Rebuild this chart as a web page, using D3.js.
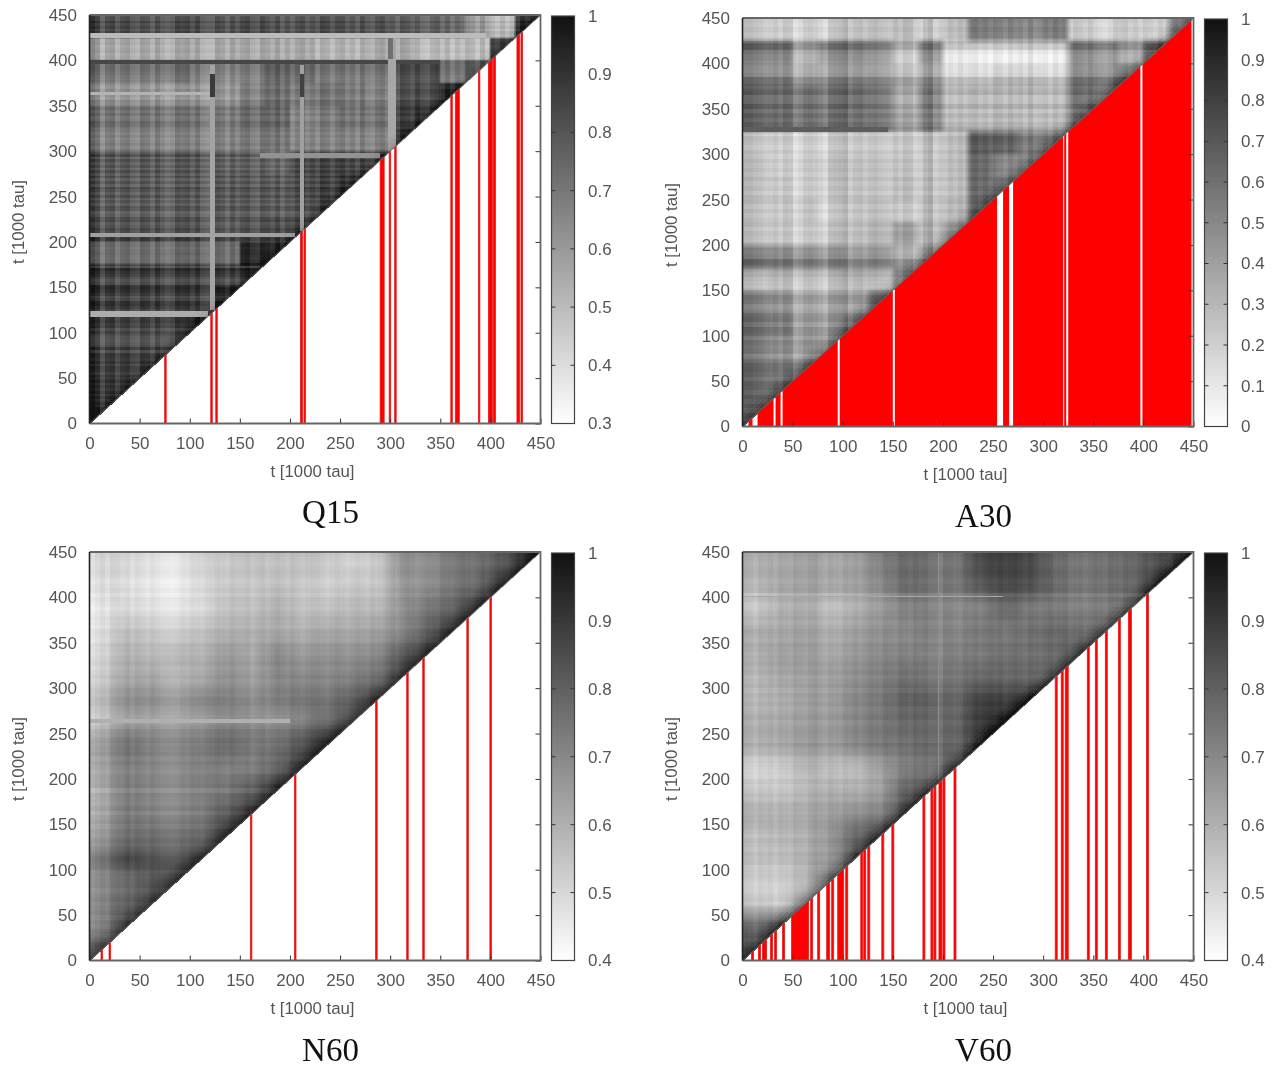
<!DOCTYPE html>
<html><head><meta charset="utf-8">
<script src="https://cdnjs.cloudflare.com/ajax/libs/d3/7.8.5/d3.min.js"></script>
<style>
html,body{margin:0;padding:0;background:#fff}
#wrap{position:relative;width:1275px;height:1065px;overflow:hidden}
canvas{position:absolute;filter:blur(0.45px)}
svg{position:absolute;left:0;top:0}
text{font-family:"Liberation Sans",Arial,sans-serif}
</style></head><body><div id="wrap"></div>
<script>
const axisTicks=[0,50,100,150,200,250,300,350,400,450];
const q15Bar=[0.3,0.4,0.5,0.6,0.7,0.8,0.9,1];
const a30Bar=[0,0.1,0.2,0.3,0.4,0.5,0.6,0.7,0.8,0.9,1];
const n60Bar=[0.4,0.5,0.6,0.7,0.8,0.9,1];
const v60Bar=[0.4,0.5,0.6,0.7,0.8,0.9,1];

// Red event stripes [from,to] in t
const q15Red=[[75,76.5],[121,122.5],[126,127.5],[210.5,212.5],[214,215.5],[290,294],[299,300.5],[304.5,306],[360.5,362],[365,369],[388,389.5],[398,402],[403,405],[426.5,429],[430.5,432]];
const a30Red=[[6,10],[15,31],[33,38],[40,95],[97,150],[152,254],[260,266],[270,320],[321,323],[325,397],[399,448]];
const n60Red=[[11.5,13],[19.5,21],[160.5,162],[204.5,206],[285.5,287],[316.5,318],[332.5,334],[376.5,378],[399.5,401]];
const v60Red=[[9,11],[16,18],[20,24],[28,30],[32,34],[40,42],[49,66],[68,70],[75,77],[84,87],[89,91],[95,101],[103,105],[118,120],[121,123],[125,127],[139,141],[149,151],[180,182],[188,190],[191,193],[196,199],[200,202],[211,213],[312,314],[318,320],[322,325],[344,346],[352,354],[362,364],[375,377],[385,388],[403,405]];

// Block values read per 25-unit cell; bottom row first, left to right up to the diagonal
const q15Grid=[[.90],[.88,.88],[.86,.86,.87],[.83,.83,.83,.87],[.83,.82,.82,.84,.89],[.84,.84,.84,.84,.84,.88],[.84,.84,.84,.84,.85,.84,.88],[.72,.72,.72,.73,.74,.72,.92,.92],[.80,.80,.80,.80,.80,.78,.80,.82,.86],[.78,.78,.78,.78,.78,.78,.78,.78,.82,.86],[.78,.78,.78,.78,.78,.78,.78,.78,.83,.85,.88],[.78,.78,.78,.78,.78,.76,.76,.74,.83,.84,.84,.84],[.66,.66,.66,.66,.66,.66,.68,.70,.66,.66,.66,.66,.88],[.70,.70,.70,.70,.70,.68,.72,.74,.66,.68,.70,.70,.85,.88],[.60,.60,.60,.60,.60,.60,.66,.72,.68,.70,.68,.66,.80,.82,.90],[.70,.70,.70,.72,.68,.66,.68,.76,.74,.70,.70,.70,.82,.82,.70,.75],[.55,.55,.55,.55,.55,.55,.55,.55,.55,.52,.52,.55,.55,.50,.50,.50,.84],[.82,.82,.80,.82,.82,.80,.82,.80,.80,.82,.80,.80,.78,.76,.74,.60,.50,.90]];
const a30Grid=[[.60],[.62,.60],[.60,.55,.55],[.52,.45,.42,.45],[.58,.52,.42,.45,.50],[.50,.45,.38,.40,.40,.55],[.28,.30,.28,.30,.32,.30,.45],[.55,.52,.50,.50,.45,.48,.38,.45],[.24,.22,.22,.25,.26,.30,.40,.30,.40],[.24,.22,.24,.22,.24,.26,.24,.26,.30,.60],[.25,.22,.22,.25,.25,.25,.28,.26,.28,.62,.55],[.25,.20,.22,.26,.25,.25,.26,.25,.28,.62,.50,.50],[.22,.20,.20,.22,.22,.22,.24,.25,.28,.68,.65,.55,.55],[.62,.60,.58,.60,.58,.55,.38,.50,.28,.28,.30,.28,.28,.55],[.62,.60,.58,.60,.60,.55,.35,.52,.28,.30,.30,.30,.28,.58,.55],[.50,.48,.38,.45,.45,.42,.30,.40,.18,.18,.22,.22,.18,.50,.50,.52],[.60,.58,.40,.55,.55,.50,.30,.52,.18,.16,.16,.18,.16,.55,.52,.40,.60],[.22,.20,.20,.22,.25,.26,.28,.22,.28,.55,.52,.50,.55,.22,.20,.22,.20,.50]];
const n60Grid=[[.85],[.72,.86],[.72,.80,.86],[.70,.76,.82,.88],[.74,.85,.82,.80,.88],[.66,.76,.76,.74,.78,.90],[.64,.74,.72,.70,.74,.82,.90],[.62,.72,.70,.68,.72,.74,.80,.90],[.64,.72,.70,.68,.72,.72,.72,.78,.90],[.66,.76,.72,.70,.74,.78,.74,.76,.84,.92],[.58,.66,.66,.64,.68,.72,.70,.70,.74,.80,.88],[.58,.68,.68,.64,.70,.72,.68,.72,.74,.74,.80,.88],[.54,.62,.62,.58,.62,.68,.64,.70,.70,.70,.72,.76,.88],[.52,.60,.58,.58,.60,.66,.62,.70,.66,.68,.68,.70,.82,.90],[.50,.56,.54,.52,.56,.60,.60,.62,.60,.62,.62,.64,.70,.80,.90],[.48,.50,.48,.46,.50,.56,.56,.60,.56,.56,.58,.58,.68,.74,.80,.90],[.50,.48,.46,.44,.50,.54,.54,.56,.54,.52,.54,.54,.66,.68,.74,.78,.90],[.52,.50,.48,.46,.52,.54,.56,.56,.56,.54,.52,.54,.68,.68,.74,.76,.82,.92]];
const v60Grid=[[.82],[.78,.85],[.54,.52,.66],[.52,.52,.58,.74],[.56,.56,.60,.66,.82],[.56,.58,.60,.66,.78,.85],[.60,.60,.62,.65,.68,.72,.85],[.54,.54,.58,.60,.60,.64,.80,.82],[.50,.52,.58,.56,.56,.64,.72,.74,.82],[.60,.62,.66,.65,.70,.74,.76,.78,.78,.90],[.60,.62,.65,.65,.70,.74,.78,.78,.78,.90,.92],[.58,.60,.64,.64,.70,.74,.80,.80,.78,.88,.88,.90],[.58,.62,.64,.64,.68,.72,.76,.74,.74,.78,.78,.78,.80],[.60,.64,.65,.62,.66,.70,.72,.72,.72,.74,.76,.76,.78,.82],[.60,.62,.64,.60,.64,.68,.70,.72,.70,.74,.74,.76,.78,.76,.78],[.54,.60,.62,.56,.60,.66,.72,.72,.70,.72,.78,.74,.74,.72,.74,.78],[.58,.62,.64,.62,.64,.70,.78,.76,.74,.82,.86,.84,.78,.74,.76,.78,.88],[.60,.62,.64,.62,.64,.72,.78,.76,.74,.86,.88,.86,.78,.74,.76,.78,.84,.88]];

// Stripe offsets in hundredths, bottom to top (rows) / left to right (cols)
const q15Rows=[2,-1,2,-2,1,2,-2,1,-1,2,-2,2,-1,1,-2,2,-1,2,-2,1,2,-2,2,-1,1,4,-3,5,-2,-4,-5,-4,-2,2,-2,4,3,5,4,0,0,0,3,6,5,-1,-3,2,5,7,6,-3,-5,-2,2,4,7,-4,6,0,-1,0,1,0,-1,1,0,7,6,0,1,3,-1,-3,2,3,-2,-4,2,3,-3,1,-3,3,-2,2,4,-3,2,-3,3,-2,3,-3,2,-2,3,-3,4,-2,1,-1,2,0,-2,1,-1,2,-1,2,3,-1,-2,2,-1,3,2,3,4,-2,0,2,3,-1,1,-2,-3,-2,0,1,2,2,3,5,0,-1,1,0,-1,1,0,0,0,2,-2,2,-1,3,-2,-3];
const q15Cols=[6,3,-3,1,2,-2,1,2,-1,-2,2,1,-2,2,-1,-3,-2,2,1,2,-1,2,-2,-3,-3,2,1,-2,2,-1,1,2,-1,-2,2,1,-1,2,-2,1,-2,1,2,-1,1,-2,2,1,-2,1,2,-1,1,-2,2,-1,-2,1,2,-1,1,-2,2,1,-1,2,-1,-2,1,2,-1,2,-2,1,-1,2,1,-2,2,-2,1,-1,2,-1,1,-2,2,-1,1,0];
const a30Rows=[3,-2,2,-2,3,-1,2,-3,1,2,-3,2,4,3,-2,-5,3,2,5,-2,4,5,-3,4,3,-2,-4,3,5,-2,-6,-4,-2,3,6,8,8,-4,-6,-4,-2,0,2,-2,3,1,-2,2,-2,3,2,-3,1,-2,3,-2,2,-1,2,-2,2,-2,1,3,-3,8,3,-2,3,-3,5,-3,-4,5,3,10,10,-3,-5,-5,-10,-10,-6,6,8,0,-1,2,-1,1];
const a30Cols=[4,4,2,1,-1,0,2,-1,3,2,-5,-3,1,2,0,-3,-6,1,2,3,5,-2,1,2,-1,1,2,0,-1,-2,1,-2,2,1,-4,-3,3,6,-3,-1,-2,1,-1,2,-1,1,2,-1,1,-2,2,1,-2,2,-1,1,-2,3,-2,-1,1,-2,2,-1,1,-2,2,1,-1,2,-1,-3,-4,-2,2,1,2,-1,1,-2,2,1,-1,2,-1,-2,1,-2,1,2];
const n60Rows=[1,0,-1,1,0,-1,1,0,1,-1,1,0,-1,1,0,-1,1,1,0,-1,2,2,2,1,0,-1,1,0,1,-1,1,0,-2,1,-1,0,1,-2,2,1,1,-1,0,1,-1,1,0,-1,1,0,1,-1,-2,-3,-2,-1,1,1,0,1,0,-1,1,0,-1,1,0,-1,0,1,-1,0,1,-1,0,1,0,-1,0,1,-1,1,0,-1,0,1,0,-1,0,1];
const n60Cols=[-4,-2,0,-2,1,1,0,1,-1,1,0,-1,1,0,-1,-1,-1,0,1,0,1,0,-1,0,0,1,0,-1,1,0,0,1,-1,0,1,-1,0,1,0,-1,1,0,-1,0,1,1,0,-1,0,1,0,-1,0,1,0,-1,1,0,-1,0,1,-1,0,1,0,-1,0,1,0,-1,1,0,-1,0,1,0,-1,0,1,-1,0,1,0,-1,0,1,-1,0,1,0];
const v60Rows=[1,-1,1,0,-1,1,0,-1,1,0,0,1,-1,1,0,-1,-1,0,1,0,-1,1,0,1,-1,0,1,-1,0,1,1,0,-1,0,1,-1,1,0,-1,1,-1,0,1,0,-1,1,0,1,-1,0,1,0,-1,1,0,-1,1,0,1,-1,1,0,-1,1,0,1,0,-1,0,1,-1,0,1,0,-1,1,0,-1,-2,0,-3,1,0,-1,0,1,0,-1,0,1];
const v60Cols=[2,1,-1,1,0,1,-1,1,0,-1,1,0,-1,1,2,0,-1,1,0,-1,1,0,1,-1,0,1,0,-1,1,0,-1,1,0,-1,1,0,1,-1,-1,-3,1,1,0,-1,1,0,1,-1,0,1,0,1,-1,0,1,0,-1,1,0,-1,0,1,-1,0,1,-1,0,1,-1,0,1,0,-1,1,0,-1,1,0,-1,0,1,-1,0,1,0,-1,1,0,-1,0];

// Narrow bands [t from,t to, other axis from, other axis to, value]
const q15RowBands=[[117,124,0,118,.54],[205,210,0,205,.58],[425,430,0,396,.50],[396,400,0,350,.84],[293,298,170,290,.62],[362,365,0,120,.52]];
const q15ColBands=[[120,125,125,395,.57],[120,125,360,385,.88],[210,214,212,395,.58],[210,214,360,385,.86],[298,306,300,425,.56],[298,303,402,425,.72]];
const a30RowBands=[[325,330,0,145,.68]];
const a30ColBands=[];
const n60RowBands=[[262,266,0,200,.60]];
const n60ColBands=[];
const v60RowBands=[[400,402,0,260,.62]];
const v60ColBands=[[195,196,200,450,.68]];

// Darkening next to the diagonal, per 5 units of distance
const q15Diag=[.06,.03,.01,0];
const a30Diag=[.15,.10,.05,.02];
const n60Diag=[.06,.04,.02,.01];
const v60Diag=[.10,.06,.03,.01];

const panels=[
 {name:"Q15",left:89.5,top:15,bar:q15Bar,red:q15Red,grid:q15Grid,rows:q15Rows,cols:q15Cols,rb:q15RowBands,cb:q15ColBands,diag:q15Diag,titleY:523,soft:.12,colGain:1.8},
 {name:"A30",left:742.5,top:18,bar:a30Bar,red:a30Red,grid:a30Grid,rows:a30Rows,cols:a30Cols,rb:a30RowBands,cb:a30ColBands,diag:a30Diag,titleY:527,soft:.3,colGain:1.6},
 {name:"N60",left:89.5,top:552,bar:n60Bar,red:n60Red,grid:n60Grid,rows:n60Rows,cols:n60Cols,rb:n60RowBands,cb:n60ColBands,diag:n60Diag,titleY:1061,soft:1,colGain:1},
 {name:"V60",left:742.5,top:552,bar:v60Bar,red:v60Red,grid:v60Grid,rows:v60Rows,cols:v60Cols,rb:v60RowBands,cb:v60ColBands,diag:v60Diag,titleY:1061,soft:1,colGain:1}
];
const W=451,H=408.5,barGap=11,barW=23;
const wrap=d3.select("#wrap");
const svg=wrap.append("svg").attr("width",1275).attr("height",1065);
const defs=svg.append("defs");
const edge=(t,w)=>{const u=t/25-.5,i=Math.floor(u);return [i,Math.min(1,Math.max(0,(u-i-.5)/w+.5))];};
panels.forEach((p,pi)=>{
  const x=d3.scaleLinear().domain([0,450]).range([p.left,p.left+W]);
  const y=d3.scaleLinear().domain([0,450]).range([p.top+H,p.top]);
  const lo=d3.min(p.bar);
  const gray=d3.scaleLinear().domain([lo,1]).range(["#ffffff","#111111"]).clamp(true);
  const cv=wrap.insert("canvas","svg").attr("width",1275).attr("height",1065).style("left","0").style("top","0").node();
  const ctx=cv.getContext("2d");
  const rs=450/p.rows.length, cs=450/p.cols.length;
  const at=(r,c)=>{const row=p.grid[Math.max(0,Math.min(17,r))];return row[Math.max(0,Math.min(row.length-1,c))];};
  for(let ty=0;ty<450;ty++){
    const [r,sr]=edge(ty+.5,p.soft);
    for(let tx=0;tx<=ty;tx++){
      const [c,sc]=edge(tx+.5,p.soft);
      let v=(1-sr)*((1-sc)*at(r,c)+sc*at(r,c+1))+sr*((1-sc)*at(r+1,c)+sc*at(r+1,c+1));
      v+=(p.rows[Math.floor(ty/rs)]+p.colGain*p.cols[Math.floor(tx/cs)])/100;
      const hb=p.rb.find(b=>ty>=b[0]&&ty<b[1]&&tx>=b[2]&&tx<b[3]);
      const vbs=p.cb.filter(b=>tx>=b[0]&&tx<b[1]&&ty>=b[2]&&ty<b[3]);
      if(hb)v=hb[4]; if(vbs.length)v=vbs[vbs.length-1][4];
      const d=Math.floor((ty-tx)/5);
      if(d<p.diag.length)v+=p.diag[d];
      ctx.fillStyle=gray(v);
      const px0=Math.round(x(tx)),px1=Math.round(x(tx+1));
      const py1=Math.round(y(ty)),py0=Math.round(y(ty+1));
      ctx.fillRect(px0,py0,Math.max(1,px1-px0),Math.max(1,py1-py0));
    }
  }
  const g=svg.append("g");
  const clipId="low"+pi;
  defs.append("clipPath").attr("id",clipId).append("polygon")
    .attr("points",[[0,0],[450,0],[450,450]].map(d=>[x(d[0]),y(d[1])].join(",")).join(" "));
  const isA=p.name==="A30";
  g.append("g").attr("clip-path",`url(#${clipId})`).selectAll("rect").data(p.red).join("rect")
    .attr("x",d=>x(d[0])).attr("width",d=>x(d[1])-x(d[0]))
    .attr("y",d=>y(d[1])).attr("height",d=>y(0)-y(d[1])).attr("fill","#f00")
    .attr("stroke",isA?"none":"#e81818").attr("stroke-width",isA?0:.8);
  g.append("line").attr("x1",x(0)).attr("y1",y(0)).attr("x2",x(450)).attr("y2",y(450)).attr("stroke","#666").attr("stroke-width",1.2).attr("opacity",.65);
  const tickFont=g=>g.selectAll("text").attr("font-size",17).attr("fill","#555");
  const xa=g.append("g").attr("transform",`translate(0,${y(0)})`).call(d3.axisBottom(x).tickValues(axisTicks).tickSize(-5).tickPadding(13).tickFormat(d3.format("d")));
  const ya=g.append("g").attr("transform",`translate(${x(0)},0)`).call(d3.axisLeft(y).tickValues(axisTicks).tickSize(0).tickPadding(12.5).tickFormat(d3.format("d")));
  const ra=g.append("g").attr("transform",`translate(${x(450)},0)`).call(d3.axisRight(y).tickValues(axisTicks).tickSize(-5).tickFormat(""));
  [xa,ya,ra].forEach(a=>{a.call(tickFont);a.select(".domain").remove();a.selectAll("line").attr("stroke","#333");});
  g.append("path").attr("d",`M${x(0)},${y(0)}H${x(450)}V${y(450)}H${x(0)}`).attr("fill","none").attr("stroke","#666").attr("stroke-width",1.8);
  g.append("line").attr("x1",x(0)).attr("x2",x(0)).attr("y1",y(0)).attr("y2",y(450)).attr("stroke","#222").attr("stroke-width",1.6);
  g.append("text").attr("x",p.left+223).attr("y",y(0)+53).attr("text-anchor","middle").attr("font-size",16.8).attr("fill","#555").text("t [1000 tau]");
  g.append("text").attr("transform",`translate(${p.left-66},${p.top+207}) rotate(-90)`).attr("text-anchor","middle").attr("font-size",16.8).attr("fill","#555").text("t [1000 tau]");
  g.append("text").attr("x",p.left+241).attr("y",p.titleY).attr("text-anchor","middle").attr("font-size",33).attr("fill","#111").style("font-family","'Liberation Serif',serif").text(p.name);
  const bx=p.left+W+barGap;
  const by=d3.scaleLinear().domain([lo,1]).range([p.top+H,p.top+1]);
  const gid="grad"+pi;
  const lg=defs.append("linearGradient").attr("id",gid).attr("x1",0).attr("x2",0).attr("y1",1).attr("y2",0);
  lg.append("stop").attr("offset",0).attr("stop-color",gray(lo));
  lg.append("stop").attr("offset",1).attr("stop-color",gray(1));
  g.append("rect").attr("x",bx).attr("y",by(1)).attr("width",barW).attr("height",by(lo)-by(1)).attr("fill",`url(#${gid})`).attr("stroke","#444").attr("stroke-width",1.2);
  const ba=g.append("g").attr("transform",`translate(${bx+barW},0)`).call(d3.axisRight(by).tickValues(p.bar).tickSize(0).tickPadding(13.5).tickFormat(d=>d===0||d===1?d:d3.format(".1f")(d)));
  ba.call(tickFont);ba.select(".domain").remove();ba.selectAll("line").remove();
  ba.selectAll("text").attr("text-anchor","start");
  const inner=p.bar.filter(d=>d>lo&&d<1);
  [[bx,4],[bx+barW,-4]].forEach(([xx,len])=>{
    g.append("g").selectAll("line").data(inner).join("line")
      .attr("x1",xx).attr("x2",xx+len).attr("y1",d=>by(d)).attr("y2",d=>by(d)).attr("stroke","#333");
  });
});
</script></body></html>
